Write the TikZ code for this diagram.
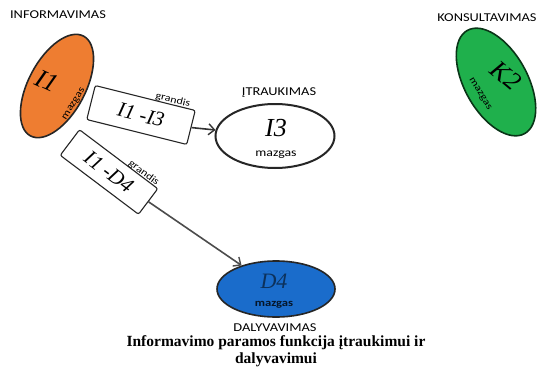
\documentclass[tikz,border=0pt]{standalone}
\usepackage{fontspec}
\setmainfont{Liberation Serif}
\setsansfont{Carlito}
\newfontfamily\plati[FakeStretch=1.2]{Carlito}
\usetikzlibrary{arrows.meta,shapes.geometric}

\definecolor{infoorange}{HTML}{EE7D31}
\definecolor{konsgreen}{HTML}{1FB04C}
\definecolor{dalyblue}{HTML}{1A6CCB}

\begin{document}
\begin{tikzpicture}[x=1pt,y=-1pt,
    mazgas/.style={ellipse, draw=black!85, line width=1.6pt, inner sep=0pt},
    grandis/.style={draw=black!85, line width=1.1pt, rounded corners=2pt, fill=white, inner sep=0pt, font=\itshape\fontsize{21}{21}\selectfont},
    vardas/.style={font=\itshape\fontsize{26}{26}\selectfont, inner sep=0pt},
    mazgtxt/.style={font=\plati\fontsize{11.5}{12}\selectfont, inner sep=1pt},
    grtxt/.style={font=\plati\fontsize{10}{10}\selectfont, inner sep=1pt},
    antraste/.style={font=\plati\fontsize{12}{12}\selectfont},
    rodykle/.style={draw=black!80, line width=1.6pt, -{Straight Barb[length=6pt,width=11pt,line width=1.4pt]}}]
    \useasboundingbox (0,0) rectangle (543,380);

    % mazgai
    \node[mazgas, fill=infoorange, minimum width=113pt, minimum height=57pt, rotate=62] (i1) at (57,86) {};
    \node[mazgas, fill=white, line width=2pt, minimum width=119pt, minimum height=64pt] (i3) at (275,136) {};
    \node[mazgas, fill=dalyblue, minimum width=118pt, minimum height=56pt] (d4) at (276,289) {};
    \node[mazgas, fill=konsgreen, draw=black!70!konsgreen, minimum width=118pt, minimum height=63pt, rotate=-61] (k2) at (496,82) {};

    \node[vardas, rotate=-25] (i1v) at (47,81) {I1};
    \node[mazgtxt, rotate=58, font=\plati\fontsize{10}{10}\selectfont] (i1m) at (74,104) {mazgas};
    \node[vardas] (i3v) at (276,128) {I3};
    \node[mazgtxt] (i3m) at (276,155) {mazgas};
    \node[vardas, font=\itshape\fontsize{22}{22}\selectfont, text=black!55!dalyblue] (d4v) at (274,281) {D4};
    \node[mazgtxt, font=\plati\bfseries\fontsize{10.5}{11}\selectfont, text=black!80!dalyblue] (d4m) at (274,305) {mazgas};
    \node[vardas, rotate=-40] (k2v) at (506,76) {K2};
    \node[mazgtxt, rotate=-58, font=\plati\fontsize{10}{10}\selectfont] (k2m) at (480,94) {mazgas};

    % antrastes
    \node[antraste] (info) at (58,15) {INFORMAVIMAS};
    \node[antraste] (itrauk) at (279,93) {ĮTRAUKIMAS};
    \node[antraste] (daly) at (275,328) {DALYVAVIMAS};
    \node[antraste] (kons) at (487,18) {KONSULTAVIMAS};

    % grandys
    \node[grandis, minimum width=103pt, minimum height=35pt, rotate=-14] (i1i3) at (141,115) {I1 -I3};
    \node[grandis, minimum width=98pt, minimum height=32pt, rotate=-37] (i1d4) at (109,172) {I1 -D4};
    \node[grtxt, rotate=-14, anchor=south east] (g1) at ([xshift=-6pt]i1i3.north east) {grandis};
    \node[grtxt, rotate=-37, anchor=south east] (g2) at ([xshift=-3pt]i1d4.north east) {grandis};

    \draw[rodykle] (i1i3.east) -- (i3);
    \draw[rodykle, draw=black!70] (i1d4.east) -- (d4);

    % paaiskinimas
    \node[font=\bfseries\fontsize{15.5}{17}\selectfont, align=center] (cap) at (276,351) {Informavimo paramos funkcija įtraukimui ir\\dalyvavimui};
\end{tikzpicture}
\end{document}
